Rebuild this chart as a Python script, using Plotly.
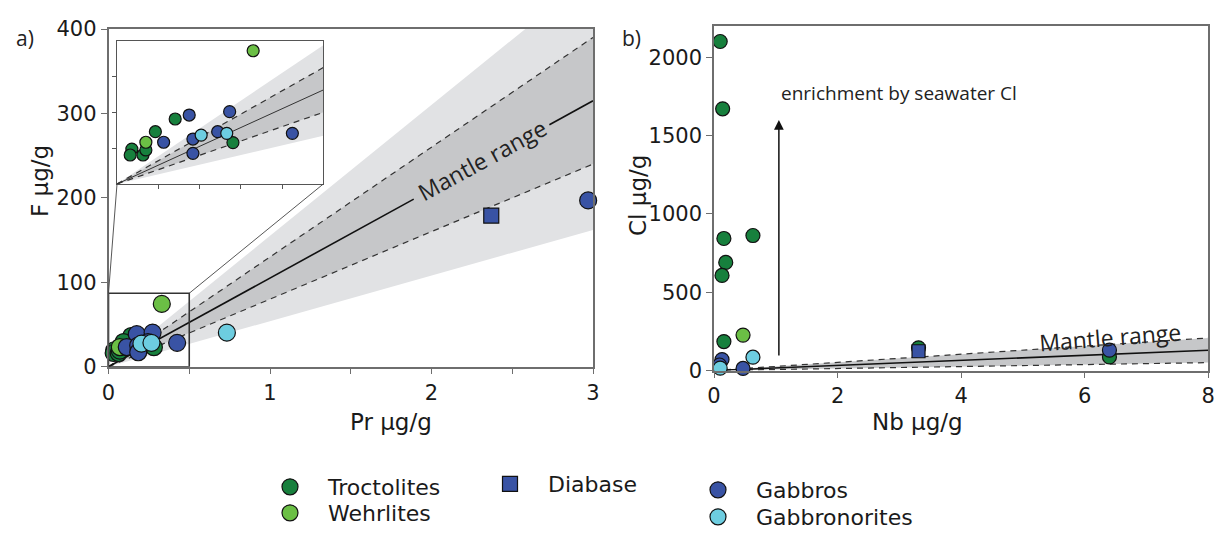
import plotly.graph_objects as go

W, H = 1219, 534

# ---------------- data: panel a (Pr vs F) ----------------
troc_pr = [0.141, 0.093, 0.036, 0.032, 0.063, 0.070, 0.281]
troc_f = [36.3, 29.2, 19.5, 16.2, 16.2, 19.0, 23.1]
wehr_pr = [0.330, 0.070]
wehr_f = [74.4, 23.3]
gab_pr = [0.175, 0.273, 0.113, 0.184, 0.244, 0.184, 0.425, 2.97]
gab_f = [38.5, 40.4, 23.3, 25.1, 29.2, 17.1, 28.3, 197.0]
gbn_pr = [0.204, 0.266, 0.733]
gbn_f = [27.3, 28.3, 40.3]
dia_pr = [2.37]
dia_f = [179.0]

# mantle F/Pr slopes: outer band, dashed envelope, mean
mantle_a_outer = [54, 155]
mantle_a_dash = [80, 130]
mantle_a_mean = 105
mean_gap_a = [1.89, 2.73]          # Pr interval where the label interrupts the line

# ---------------- data: panel b (Nb vs Cl) ----------------
troc_nb = [0.10, 0.14, 0.16, 0.63, 0.19, 0.13, 0.16, 3.31, 6.40]
troc_cl = [2101, 1671, 843, 862, 690, 607, 185, 145, 87]
wehr_nb = [0.47]
wehr_cl = [226]
gab_nb = [0.13, 0.09, 0.47, 6.40]
gab_cl = [70, 35, 13, 130]
gbn_nb = [0.10, 0.63]
gbn_cl = [15, 85]
dia_nb = [3.31]
dia_cl = [123]

mantle_b_dash = [6.3, 26]
mantle_b_mean = 16.2
arrow_nb = 1.05
arrow_cl = [86, 1600]

# axis ranges
xa_range, ya_range = [0, 3], [0, 400]
xb_range, yb_range = [0, 8], [0, 2200]
xi_range, yi_range = [0, 0.5], [0, 80]
rect_top = 87

# ---------------- styles ----------------
C_TROC = "#17803d"
C_WEHR = "#6bbf45"
C_GAB = "#3953a4"
C_GBN = "#6dcde0"
LIGHT = "#e1e2e4"
DARK = "#c6c7c9"
AX = "#6e6e6e"
FONT = "DejaVu Sans"
FONT2 = "Open Sans"


def px_x(p):
    return p / W


def px_y(p):
    return 1 - p / H


dom_a_x = [px_x(108.5), px_x(593)]
dom_a_y = [px_y(366.7), px_y(29)]
dom_b_x = [px_x(714), px_x(1208.3)]
dom_b_y = [px_y(370.5), px_y(26)]
dom_i_x = [px_x(117), px_x(323.3)]
dom_i_y = [px_y(184), px_y(40.7)]

fig = go.Figure()


def band(xa, ya, xmax, lo, hi, color):
    fig.add_trace(go.Scatter(x=[0, xmax, xmax, 0], y=[0, lo * xmax, hi * xmax, 0],
                             fill="toself", fillcolor=color, mode="lines",
                             line=dict(width=0), hoverinfo="skip", showlegend=False,
                             xaxis=xa, yaxis=ya))


def line(xa, ya, x0, x1, slope, dash, width, color):
    fig.add_trace(go.Scatter(x=[x0, x1], y=[slope * x0, slope * x1], mode="lines",
                             line=dict(color=color, width=width, dash=dash),
                             hoverinfo="skip", showlegend=False, xaxis=xa, yaxis=ya))


# ---- panel a main bands ----
xm = xa_range[1]
band("x", "y", xm, mantle_a_outer[0], mantle_a_outer[1], LIGHT)
band("x", "y", xm, mantle_a_dash[0], mantle_a_dash[1], DARK)
for s in mantle_a_dash:
    line("x", "y", 0, xm, s, "6px,5px", 1.2, "#333333")
line("x", "y", 0, mean_gap_a[0], mantle_a_mean, "solid", 1.6, "#111111")
line("x", "y", mean_gap_a[1], xm, mantle_a_mean, "solid", 1.6, "#111111")

# ---- inset bands ----
xi = xi_range[1]
band("x3", "y3", xi, mantle_a_outer[0], mantle_a_outer[1], LIGHT)
band("x3", "y3", xi, mantle_a_dash[0], mantle_a_dash[1], DARK)
for s in mantle_a_dash:
    line("x3", "y3", 0, xi, s, "6px,5px", 1.2, "#333333")
line("x3", "y3", 0, xi, mantle_a_mean, "solid", 1.0, "#333333")

# ---- panel b band ----
xbm = xb_range[1]
band("x2", "y2", xbm, mantle_b_dash[0], mantle_b_dash[1], DARK)
for s in mantle_b_dash:
    line("x2", "y2", 0, xbm, s, "6px,5px", 1.2, "#333333")
line("x2", "y2", 0, xbm, mantle_b_mean, "solid", 1.6, "#111111")

groups = [
    ("Troctolites", C_TROC, "circle", (troc_pr, troc_f), (troc_nb, troc_cl), "legend"),
    ("Wehrlites", C_WEHR, "circle", (wehr_pr, wehr_f), (wehr_nb, wehr_cl), "legend2"),
    ("Gabbros", C_GAB, "circle", (gab_pr, gab_f), (gab_nb, gab_cl), "legend4"),
    ("Gabbronorites", C_GBN, "circle", (gbn_pr, gbn_f), (gbn_nb, gbn_cl), "legend5"),
    ("Diabase", C_GAB, "square", (dia_pr, dia_f), (dia_nb, dia_cl), "legend3"),
]

for name, col, sym, (xa_, ya_), (xb_, yb_), lg in groups:
    mk = dict(color=col, symbol=sym, line=dict(color="#111111", width=1.2))
    fig.add_trace(go.Scatter(x=xa_, y=ya_, mode="markers", name=name, legend=lg,
                             marker=dict(size=17 if sym == "circle" else 15, **mk),
                             cliponaxis=False, xaxis="x", yaxis="y"))
    fig.add_trace(go.Scatter(x=xa_, y=ya_, mode="markers", showlegend=False,
                             marker=dict(size=12, **mk), xaxis="x3", yaxis="y3"))
    fig.add_trace(go.Scatter(x=xb_, y=yb_, mode="markers", showlegend=False,
                             marker=dict(size=14 if sym == "circle" else 13, **mk),
                             cliponaxis=False, xaxis="x2", yaxis="y2"))

tickfont = dict(family=FONT, size=21, color="#1a1a1a")
common = dict(showgrid=False, zeroline=False, showline=True, linecolor=AX, linewidth=1.5,
              mirror=True, ticks="outside", ticklen=6, tickcolor=AX, tickwidth=1.2,
              tickfont=tickfont, fixedrange=True, automargin=False)
inset_ax = dict(showgrid=False, zeroline=False, showline=True, linecolor="#555555",
                linewidth=1.2, mirror=True, ticks="outside", ticklen=4, tickcolor="#555555",
                showticklabels=False, fixedrange=True)


def to_paper_a(xv, yv):
    px = dom_a_x[0] + (xv - xa_range[0]) / (xa_range[1] - xa_range[0]) * (dom_a_x[1] - dom_a_x[0])
    py = dom_a_y[0] + (yv - ya_range[0]) / (ya_range[1] - ya_range[0]) * (dom_a_y[1] - dom_a_y[0])
    return px, py


r_tl = to_paper_a(xi_range[0], rect_top)
r_tr = to_paper_a(xi_range[1], rect_top)
shapes = [
    dict(type="rect", xref="x", yref="y", x0=xi_range[0], x1=xi_range[1], y0=0, y1=rect_top,
         line=dict(color="#333333", width=1.6)),
    dict(type="line", xref="paper", yref="paper", x0=r_tl[0], y0=r_tl[1], x1=dom_i_x[0], y1=dom_i_y[0],
         line=dict(color="#444444", width=0.9)),
    dict(type="line", xref="paper", yref="paper", x0=r_tr[0], y0=r_tr[1], x1=dom_i_x[1], y1=dom_i_y[0],
         line=dict(color="#444444", width=0.9)),
]

annotations = [
    dict(text="Mantle range", x=2.31, y=245, xref="x", yref="y", showarrow=False,
         textangle=-28.6, font=dict(family=FONT2, size=23, color="#222222")),
    dict(text="Mantle range", x=6.41, y=214, xref="x2", yref="y2", showarrow=False,
         textangle=-4.5, font=dict(family=FONT2, size=23, color="#222222")),
    dict(text="", x=arrow_nb, y=arrow_cl[1], ax=arrow_nb, ay=arrow_cl[0], xref="x2", yref="y2",
         axref="x2", ayref="y2", showarrow=True, arrowhead=2, arrowsize=1.3, arrowwidth=1.5,
         arrowcolor="#111111"),
    dict(text="enrichment by seawater Cl", x=arrow_nb, y=1770, xref="x2", yref="y2",
         xanchor="left", showarrow=False, font=dict(family=FONT2, size=19, color="#222222")),
    dict(text="a)", x=px_x(14), y=px_y(22), xref="paper", yref="paper", xanchor="left",
         showarrow=False, font=dict(family=FONT2, size=21, color="#222222")),
    dict(text="b)", x=px_x(620), y=px_y(22), xref="paper", yref="paper", xanchor="left",
         showarrow=False, font=dict(family=FONT2, size=21, color="#222222")),
    dict(text="F µg/g", x=px_x(25), y=px_y(181), xref="paper", yref="paper", textangle=-90,
         showarrow=False, font=dict(family=FONT, size=23, color="#1a1a1a")),
    dict(text="Pr µg/g", x=px_x(348), y=px_y(437), xref="paper", yref="paper",
         showarrow=False, font=dict(family=FONT, size=23, color="#1a1a1a")),
    dict(text="Cl µg/g", x=px_x(638), y=px_y(196), xref="paper", yref="paper", textangle=-90,
         showarrow=False, font=dict(family=FONT, size=23, color="#1a1a1a")),
    dict(text="Nb µg/g", x=px_x(965), y=px_y(437), xref="paper", yref="paper",
         showarrow=False, font=dict(family=FONT, size=23, color="#1a1a1a")),
]

legfont = dict(family=FONT, size=22, color="#1a1a1a")
leg_common = dict(font=legfont, bgcolor="rgba(0,0,0,0)", xanchor="left", yanchor="middle",
                  itemclick=False, itemdoubleclick=False, itemwidth=66)
# legend item anchor positions (pixel), symbol centre = x + 40
leg_pos = {"legend": (252, 487), "legend2": (252, 513), "legend3": (472, 484),
           "legend4": (680, 490), "legend5": (680, 517)}
legends = {k: dict(x=px_x(v[0]), y=px_y(v[1]), **leg_common) for k, v in leg_pos.items()}

fig.update_layout(
    width=W, height=H, margin=dict(l=0, r=0, t=0, b=0, pad=0, autoexpand=False),
    paper_bgcolor="white", plot_bgcolor="white",
    xaxis=dict(domain=dom_a_x, range=xa_range, tickvals=[0, 0.5, 1, 1.5, 2, 2.5, 3],
               ticktext=["0", "", "1", "", "2", "", "3"], anchor="y", **common),
    yaxis=dict(domain=dom_a_y, range=ya_range, tickvals=[0, 100, 200, 300, 400], anchor="x", **common),
    xaxis2=dict(domain=dom_b_x, range=xb_range, tickvals=[0, 2, 4, 6, 8], anchor="y2", **common),
    yaxis2=dict(domain=dom_b_y, range=yb_range, tickvals=[0, 500, 1000, 1500, 2000], anchor="x2", **common),
    xaxis3=dict(domain=dom_i_x, range=xi_range, tickvals=[0.1, 0.2, 0.3, 0.4], anchor="y3", **inset_ax),
    yaxis3=dict(domain=dom_i_y, range=yi_range, tickvals=[20, 40, 60], anchor="x3", **inset_ax),
    shapes=shapes, annotations=annotations,
    **legends,
)

fig.write_html("out.html", config={"displayModeBar": False},
               post_script="document.body.style.margin='0px';document.body.style.overflow='hidden';")
